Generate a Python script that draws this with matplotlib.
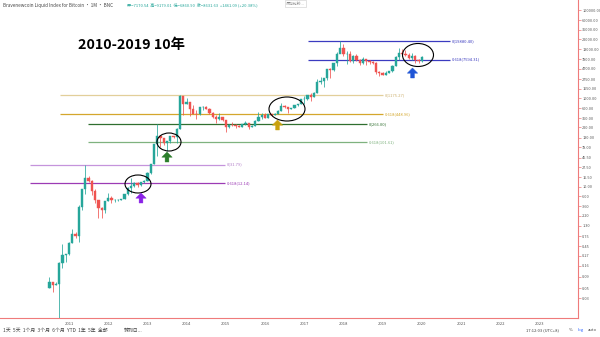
import matplotlib
matplotlib.use("Agg")
import matplotlib.pyplot as plt
from matplotlib.patches import Ellipse, Polygon
from matplotlib.transforms import IdentityTransform
from matplotlib.ticker import NullLocator

plt.rcParams['font.family'] = ['Noto Sans CJK SC', 'DejaVu Sans']

# ---------------- data ----------------
months = [
    "2010-07", "2010-08", "2010-09", "2010-10", "2010-11", "2010-12",
] + [f"{y}-{m:02d}" for y in range(2011, 2020) for m in range(1, 13)] + ["2020-01"]

opens = [
    0.05, 0.07, 0.06, 0.062, 0.19, 0.28,
    0.30, 0.52, 0.86, 0.78, 3.50, 8.70, 16.1, 13.4, 8.2, 5.1, 3.25, 2.97,
    4.72, 5.5, 4.9, 4.9, 4.95, 5.2, 6.7, 9.35, 10.2, 12.4, 11.2, 12.6,
    13.5, 20.4, 33.4, 93.0, 139, 129, 97, 106, 141, 133, 204, 1130,
    757, 830, 570, 450, 445, 630, 640, 585, 480, 385, 338, 378,
    318, 220, 255, 245, 236, 230, 263, 285, 230, 236, 314, 378,
    430, 368, 437, 416, 448, 530, 673, 624, 575, 608, 700, 745,
    963, 968, 1190, 1080, 1350, 2300, 2480, 2870, 4740, 4340, 6460, 10230,
    13850, 10220, 10330, 6930, 9240, 7500, 6400, 7730, 7020, 6630, 6370, 4020,
    3740, 3460, 3840, 4100, 5340, 8560, 10800, 10080, 9600, 8300, 9150, 7550,
    7170.54,
]
highs = [
    0.09, 0.07, 0.07, 0.20, 0.50, 0.30,
    0.55, 1.10, 0.95, 3.90, 8.90, 31.79, 17.5, 14.0, 8.8, 5.1, 3.5, 4.8,
    7.2, 6.3, 5.4, 5.3, 5.2, 6.9, 9.7, 15.4, 12.9, 12.9, 12.9, 13.9,
    21.0, 33.4, 95.0, 266.0, 140, 129, 110, 141, 141, 215, 1175.27, 1160,
    1000, 850, 700, 540, 630, 680, 660, 600, 500, 420, 460, 385,
    320, 265, 300, 260, 245, 265, 315, 285, 245, 330, 500, 465,
    460, 440, 440, 470, 550, 780, 700, 625, 615, 725, 750, 980,
    1150, 1200, 1300, 1370, 2800, 3000, 2950, 4750, 5000, 6450, 11500, 19880.4,
    17200, 11800, 11700, 9750, 9990, 7770, 8500, 7770, 7400, 7000, 6560, 4250,
    4070, 4200, 4110, 5620, 9000, 13900, 13200, 12300, 10900, 10500, 9500, 7750,
    9179.01,
]
lows = [
    0.05, 0.04, 0.06, 0.008, 0.14, 0.20,
    0.29, 0.52, 0.70, 0.55, 2.90, 7.0, 12.5, 6.6, 4.3, 2.0, 2.0, 2.6,
    4.7, 4.2, 4.5, 4.7, 4.9, 5.2, 6.5, 7.1, 10.0, 9.8, 10.5, 12.4,
    13.2, 19.6, 33.0, 50.0, 80, 90, 65, 97, 124, 100, 200, 420,
    750, 400, 440, 340, 420, 540, 570, 450, 370, 280, 320, 310,
    170, 210, 240, 215, 225, 220, 255, 200, 225, 235, 305, 350,
    355, 365, 405, 415, 440, 530, 600, 470, 570, 605, 685, 740,
    750, 915, 890, 1060, 1340, 2100, 1840, 2680, 2950, 4140, 5550, 10900,
    9400, 6000, 6600, 6450, 7050, 5780, 6100, 5880, 6140, 6100, 3600, 3150,
    3350, 3380, 3780, 4080, 5320, 7450, 9100, 9350, 7750, 7300, 6500, 6430,
    6860.90,
]
closes = [
    0.07, 0.06, 0.062, 0.19, 0.28, 0.30,
    0.52, 0.86, 0.78, 3.50, 8.70, 16.1, 13.4, 8.2, 5.1, 3.25, 2.97, 4.72,
    5.5, 4.9, 4.9, 4.95, 5.2, 6.7, 9.35, 10.2, 12.4, 11.2, 12.6, 13.5,
    20.4, 33.4, 93.0, 139, 129, 97, 106, 141, 133, 204, 1130, 757,
    830, 570, 450, 445, 630, 640, 585, 480, 385, 338, 378, 318,
    220, 255, 245, 236, 230, 263, 285, 230, 236, 314, 378, 430,
    368, 437, 416, 448, 530, 673, 624, 575, 608, 700, 745, 963,
    968, 1190, 1080, 1350, 2300, 2480, 2870, 4740, 4340, 6460, 10230, 13850,
    10220, 10330, 6930, 9240, 7500, 6400, 7730, 7020, 6630, 6370, 4020, 3740,
    3460, 3840, 4100, 5340, 8560, 10800, 10080, 9600, 8300, 9150, 7550, 7170.54,
    8631.63,
]

year_labels = ["2011", "2012", "2013", "2014", "2015", "2016", "2017",
               "2018", "2019", "2020", "2021", "2022", "2023"]
price_ticks = [0.03, 0.05, 0.09, 0.16, 0.27, 0.45, 0.75, 1.30, 2.20, 3.60,
               6.00, 10.00, 16.50, 27.50, 45.50, 78.00, 130.00, 220.00,
               360.00, 600.00, 1000.00, 1650.00, 2750.00, 4700.00, 7800.00,
               13000.00, 22000.00, 36000.00, 60000.00, 100000.00]

# Fibonacci levels (0 and 0.618)
fib_names = ["purple", "green", "gold", "blue"]
fib_zero = [31.79, 266.00, 1175.27, 19880.40]
fib_618 = [12.14, 101.61, 448.96, 7594.31]

# ---------------- figure ----------------
W, H = 600, 337
fig = plt.figure(figsize=(W / 100, H / 100), dpi=100)
fig.patch.set_facecolor("white")
AX_R, AX_B = 578, 318
ax = fig.add_axes([0, (H - AX_B) / H, AX_R / W, AX_B / H])
ax.set_facecolor("white")

PX_2011 = 69.0
PX_YEAR = 39.2
def px2yr(px):
    return 2011 + (px - PX_2011) / PX_YEAR

ax.set_xlim(px2yr(0), px2yr(AX_R))
ax.set_yscale("log")
ax.set_ylim(0.01057, 170400)

xs = [int(m[:4]) + (int(m[5:]) - 1) / 12 for m in months]
up_c, dn_c = "#26a69a", "#ef5350"
bw = 0.058
for x, o, h, l, c in zip(xs, opens, highs, lows, closes):
    col = up_c if c >= o else dn_c
    ax.vlines(x, l, h, color=col, lw=0.55, zorder=3)
    lo, hi = min(o, c), max(o, c)
    ax.bar(x, hi - lo, bottom=lo, width=bw, color=col, edgecolor=col,
           lw=0.3, zorder=4)

# fib lines
fib_cfg = {
    "purple": dict(x0=30, x1=225, c0="#c594dc", c1="#9c3bb5", t0="#b27cc9"),
    "green": dict(x0=88, x1=367, c0="#2f6f2f", c1="#7fb27f", t0="#2f6f2f"),
    "gold": dict(x0=60, x1=383, c0="#e2cf9a", c1="#d4a72c", t0="#cdb170"),
    "blue": dict(x0=308, x1=450, c0="#3b3bc0", c1="#3b3bc0", t0="#3b3bc0"),
}
for name, z, s in zip(fib_names, fib_zero, fib_618):
    cfg = fib_cfg[name]
    a, b = px2yr(cfg["x0"]), px2yr(cfg["x1"])
    ax.hlines(z, a, b, color=cfg["c0"], lw=0.9, zorder=2)
    ax.hlines(s, a, b, color=cfg["c1"], lw=0.9, zorder=2)
    tx = px2yr(cfg["x1"] + 2)
    ax.text(tx, z, f"0({z:.2f})", fontsize=3.0, color=cfg["t0"],
            va="center", ha="left")
    ax.text(tx, s, f"0.618({s:.2f})", fontsize=3.0, color=cfg["c1"],
            va="center", ha="left")

def fx(px):
    return px / AX_R
def fy(py):
    return 1 - py / AX_B
for cx, cy, w, h in [(138, 184, 26, 18), (169, 142, 24, 18),
                     (287, 109, 36, 24), (418, 55, 31, 23)]:
    ax.add_patch(Ellipse((fx(cx), fy(cy)), w / AX_R, h / AX_B,
                         transform=ax.transAxes, fill=False,
                         ec="black", lw=0.8, zorder=6))

def up_arrow(cx, top, color):
    ht, hw, sw, hh = 10, 5.2, 1.9, 5.2
    pts = [(cx, top), (cx + hw, top + hh), (cx + sw, top + hh),
           (cx + sw, top + ht), (cx - sw, top + ht), (cx - sw, top + hh),
           (cx - hw, top + hh)]
    pts = [(x, H - y) for x, y in pts]
    fig.patches.append(Polygon(pts, closed=True, fc=color, ec=color, lw=0.3,
                               transform=IdentityTransform(), figure=fig))
up_arrow(141, 193, "#8a22e6")
up_arrow(167, 152, "#2b7d2b")
up_arrow(277.5, 120, "#c9a10d")
up_arrow(412.5, 68, "#1f55d6")

for s in ["top", "left"]:
    ax.spines[s].set_visible(False)
ax.spines["right"].set_color("#ef7b7b")
ax.spines["bottom"].set_color("#ef7b7b")
ax.spines["right"].set_linewidth(0.8)
ax.spines["bottom"].set_linewidth(0.8)
ax.yaxis.tick_right()
ax.set_yticks(price_ticks)
ax.set_yticklabels([f"{v:.2f}" for v in price_ticks])
ax.yaxis.set_minor_locator(NullLocator())
ax.tick_params(axis="y", length=2.2, width=0.5, color="#ef7b7b", pad=0.8,
               labelsize=2.75, labelcolor="#555555")
ax.set_xticks([int(y) for y in year_labels])
ax.set_xticklabels(year_labels)
ax.tick_params(axis="x", length=0, pad=3, labelsize=3.0, labelcolor="#555555")

# header
fig.text(3 / W, 1 - 5 / H, "Bravenewcoin Liquid Index for Bitcoin · 1M · BNC",
         fontsize=3.3, color="#444444", va="center", ha="left")
fig.text(127 / W, 1 - 5 / H,
         "开=7170.54  高=9179.01  低=6860.90  收=8631.63  +1461.09 (+20.38%)",
         fontsize=3.0, color="#26a69a", va="center", ha="left")
fig.text(78 / W, 1 - 45 / H, "2010-2019 10年", fontsize=10.3, fontweight="bold",
         color="black", va="center", ha="left")

# search box at top
fig.text(286 / W, 1 - 3.5 / H, "添加比较...", fontsize=2.8, color="#888888",
         va="center", ha="left",
         bbox=dict(boxstyle="square,pad=0.3", fc="white", ec="#cccccc", lw=0.4))

# bottom toolbar
fig.text(3 / W, 1 - 330 / H, "1天  5天  1个月  3个月  6个月  YTD  1年  5年  全部",
         fontsize=3.5, color="#444444", va="center", ha="left")
fig.text(124 / W, 1 - 330 / H, "转到日...", fontsize=3.5, color="#444444",
         va="center", ha="left")
fig.text(526 / W, 1 - 330 / H, "17:12:03 (UTC+8)", fontsize=3.0,
         color="#444444", va="center", ha="left")
fig.text(569 / W, 1 - 330 / H, "%", fontsize=3.0, color="#444444",
         va="center", ha="left")
fig.text(578 / W, 1 - 330 / H, "log", fontsize=3.0, color="#2962ff",
         va="center", ha="left")
fig.text(588 / W, 1 - 330 / H, "auto", fontsize=3.0, color="#444444",
         va="center", ha="left")

fig.savefig("out.png", dpi=100, facecolor="white")
